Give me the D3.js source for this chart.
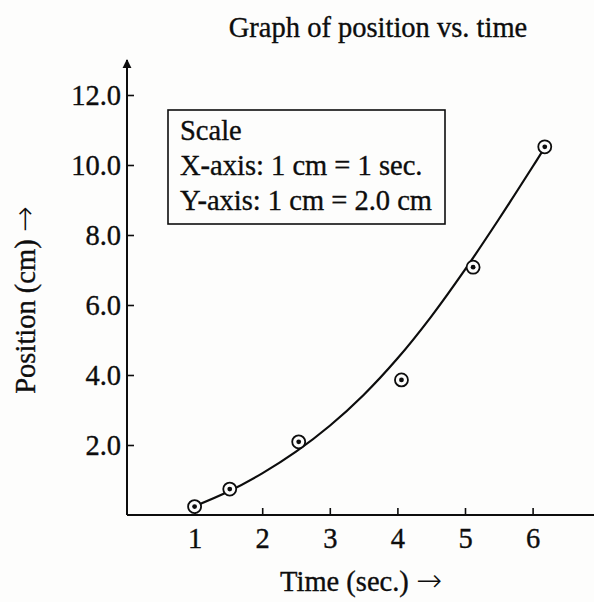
<!DOCTYPE html>
<html>

<head>
    <meta charset="UTF-8">
    <style>
        body {
            margin: 0;
            background-color: #fdfdfc;
        }

        svg text {
            font-family: "Liberation Serif", "Times New Roman", serif;
            fill: #0d0d0d;
            stroke: #0d0d0d;
            stroke-width: 0.35px;
        }

        .arr {
            font-family: "DejaVu Sans", sans-serif;
            font-weight: 200;
            stroke-width: 0;
        }
    </style>
</head>

<body>
    <svg id="chart"></svg>
    <script src="https://d3js.org/d3.v7.min.js"></script>

    <script>

        // measured points (time in s, position in cm)
        let timeVals = [1.0, 1.52, 2.54, 4.06, 5.12, 6.18];
        let posVals = [0.24, 0.74, 2.09, 3.86, 7.08, 10.52];

        // smooth curve drawn through the points
        let curveTime = [1.0, 1.5, 2.0, 2.5, 3.0, 3.5, 4.0, 4.5, 5.0, 5.5, 6.0, 6.18];
        let curvePos = [0.25, 0.67, 1.19, 1.81, 2.55, 3.43, 4.47, 5.67, 7.01, 8.45, 9.95, 10.5];

        let xTicks = [1, 2, 3, 4, 5, 6];
        let yTicks = [2, 4, 6, 8, 10, 12];

        let scaleLines = ["Scale", "X-axis: 1 cm = 1 sec.", "Y-axis: 1 cm = 2.0 cm"];

        let width = 594, height = 602;
        let ink = "#0d0d0d";
        let fs = 28.5;

        let svg = d3.select("#chart")
            .attr("width", width)
            .attr("height", height)

        let x = d3.scaleLinear().domain([0, 6.9]).range([127, 127 + 6.9 * 67.6]);
        let y = d3.scaleLinear().domain([0, 13]).range([515, 60]);

        // arrow head for the y axis
        svg.append("defs").append("marker")
            .attr("id", "arrow")
            .attr("viewBox", "0 0 10 10")
            .attr("refX", 9).attr("refY", 5)
            .attr("markerWidth", 4.5).attr("markerHeight", 5)
            .attr("orient", "auto")
            .append("path")
            .attr("d", "M0,0 L10,5 L0,10 z")
            .attr("fill", ink);

        // title
        svg.append("text")
            .attr("x", 378).attr("y", 37)
            .attr("text-anchor", "middle")
            .attr("font-size", fs)
            .text("Graph of position vs. time");

        // x axis
        let xAxis = svg.append("g")
            .attr("transform", "translate(0," + y(0) + ")")
            .call(d3.axisBottom(x).tickValues(xTicks).tickFormat(d3.format("d")).tickSize(-7).tickPadding(13))
        xAxis.select(".domain").remove();
        xAxis.selectAll(".tick line").attr("stroke", ink).attr("stroke-width", 1.6);
        xAxis.selectAll(".tick text").attr("font-size", fs).attr("font-family", "Liberation Serif");
        xAxis.append("line")
            .attr("x1", x(0)).attr("x2", width)
            .attr("stroke", ink).attr("stroke-width", 2);

        // y axis
        let yAxis = svg.append("g")
            .attr("transform", "translate(" + x(0) + ",0)")
            .call(d3.axisLeft(y).tickValues(yTicks).tickFormat(d3.format(".1f")).tickSize(-7).tickPadding(6))
        yAxis.select(".domain").remove();
        yAxis.selectAll(".tick line").attr("stroke", ink).attr("stroke-width", 1.6);
        yAxis.selectAll(".tick text").attr("font-size", fs).attr("font-family", "Liberation Serif");
        yAxis.append("line")
            .attr("y1", y(0)).attr("y2", y(13))
            .attr("stroke", ink).attr("stroke-width", 2)
            .attr("marker-end", "url(#arrow)");

        // axis titles
        let xt = svg.append("text")
            .attr("x", 361).attr("y", 591)
            .attr("text-anchor", "middle")
            .attr("font-size", fs);
        xt.append("tspan").text("Time (sec.) ");
        xt.append("tspan").attr("class", "arr").attr("font-size", 31).text("→");

        let yt = svg.append("text")
            .attr("transform", "translate(35,300) rotate(-90)")
            .attr("text-anchor", "middle")
            .attr("font-size", fs);
        yt.append("tspan").text("Position (cm) ");
        yt.append("tspan").attr("class", "arr").attr("font-size", 31).text("→");

        // scale box
        let box = svg.append("g");
        box.append("rect")
            .attr("x", 168).attr("y", 110)
            .attr("width", 277).attr("height", 114)
            .attr("fill", "none")
            .attr("stroke", ink).attr("stroke-width", 1.6);
        box.selectAll("text")
            .data(scaleLines)
            .enter()
            .append("text")
            .attr("x", 180)
            .attr("y", (d, i) => 140 + i * 35)
            .attr("font-size", fs)
            .text(d => d);

        // fitted curve
        let line = d3.line()
            .x(d => x(d[0]))
            .y(d => y(d[1]))
            .curve(d3.curveCatmullRom.alpha(0.5));

        svg.append("path")
            .datum(d3.zip(curveTime, curvePos))
            .attr("d", line)
            .attr("fill", "none")
            .attr("stroke", ink)
            .attr("stroke-width", 2.2);

        // data points: circled dots
        let pts = svg.append("g")
            .selectAll("g")
            .data(d3.zip(timeVals, posVals))
            .enter()
            .append("g")
            .attr("transform", d => "translate(" + x(d[0]) + "," + y(d[1]) + ")");

        pts.append("circle")
            .attr("r", 6.5)
            .attr("fill", "#fdfdfc")
            .attr("stroke", ink)
            .attr("stroke-width", 1.8);

        pts.append("circle")
            .attr("r", 2.4)
            .attr("fill", ink);

    </script>

</body>

</html>
